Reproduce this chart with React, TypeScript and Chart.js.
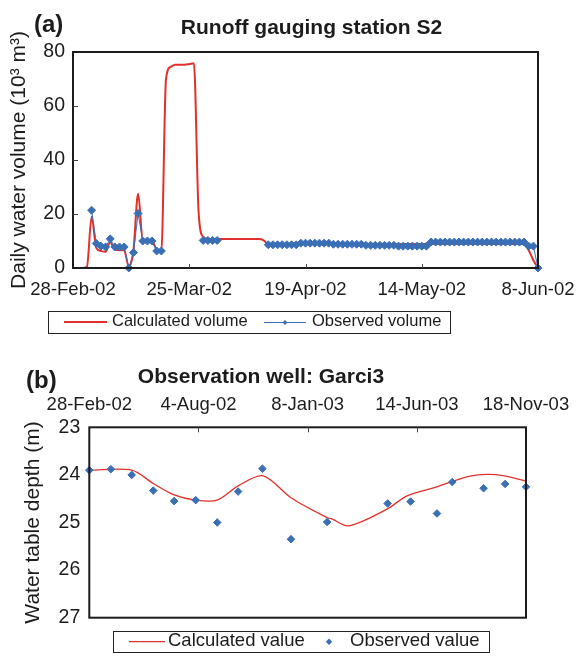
import React, { useEffect, useRef } from 'react';
import { Chart, registerables } from 'chart.js';

Chart.register(...registerables);

const FONT = '"Liberation Sans", Arial, Helvetica, sans-serif';
const INK = '#1c1c1c';
const RED = '#e2302a';
const BLUE = '#3a6fb6';

// ---------- Panel (a): runoff gauging station S2 (day index from 28-Feb-02) ----------
const runoffTickLabels = ['28-Feb-02', '25-Mar-02', '19-Apr-02', '14-May-02', '8-Jun-02'];
const runoffTickStep = 25;
const runoffYTicks = [0, 20, 40, 60, 80];

const calcVolume = [
  0, 0, 0, 0.5, 19, 7.5, 6.3, 6.0, 9.5, 6.8,
  6.6, 6.6, 0.5, 6.5, 27.5, 10.5, 10.3, 10.0, 6.8, 6.3,
  70, 74.5, 75.3, 75.3, 75.3, 75.5, 75.8, 21, 11.5, 10.8,
  10.7, 10.7, 10.7, 10.7, 10.7, 10.7, 10.7, 10.7, 10.7, 10.7,
  10.7, 10.2, 8.9, 8.9, 8.9, 8.9, 8.9, 8.9, 8.9, 8.9,
  8.9, 8.9, 8.9, 8.9, 8.9, 8.9, 8.9, 8.9, 8.9, 8.9,
  8.9, 8.9, 8.9, 8.9, 8.9, 8.9, 8.9, 8.9, 8.9, 8.9,
  8.9, 8.9, 8.9, 8.9, 8.9, 8.9, 8.9, 8.9, 8.9, 8.9,
  8.9, 8.9, 8.9, 8.9, 8.9, 8.9, 8.9, 8.9, 8.9, 8.9,
  8.9, 8.9, 8.9, 8.9, 8.9, 8.9, 8.9, 8.9, 6.6, 2.9,
  0,
];

const obsVolume = [
  null, null, null, null, 21.4, 9.1, 8.1, 7.8, 10.8, 7.8,
  7.8, 7.8, 0, 5.7, 20.2, 10.0, 10.0, 10.0, 6.3, 6.3,
  null, null, null, null, null, null, null, null, 10.2, 10.2,
  10.2, 10.2, null, null, null, null, null, null, null, null,
  null, null, 8.6, 8.6, 8.6, 8.6, 8.6, 8.6, 8.6, 9.2,
  9.2, 9.2, 9.2, 9.2, 9.2, 9.2, 8.8, 8.8, 8.8, 8.8,
  8.8, 8.8, 8.8, 8.4, 8.4, 8.4, 8.4, 8.4, 8.4, 8.4,
  8.1, 8.1, 8.1, 8.1, 8.1, 8.1, 8.1, 9.6, 9.6, 9.6,
  9.6, 9.6, 9.6, 9.6, 9.6, 9.6, 9.6, 9.6, 9.6, 9.6,
  9.6, 9.6, 9.6, 9.6, 9.6, 9.6, 9.6, 9.6, 8.1, 8.1,
  0,
];

// ---------- Panel (b): observation well Garci3 (day index from 28-Feb-02) ----------
const wellTickLabels = ['28-Feb-02', '4-Aug-02', '8-Jan-03', '14-Jun-03', '18-Nov-03'];
const wellTickStep = 157;
const obsWellDays = [0, 31, 61, 92, 122, 153, 184, 214, 249, 290, 342, 429, 462, 500, 522, 567, 598, 628];
const obsWellDepth = [23.9, 23.88, 24.0, 24.33, 24.55, 24.53, 25.0, 24.35, 23.87, 25.35, 24.99, 24.6, 24.56, 24.81, 24.15, 24.28, 24.19, 24.25];
const calcWellDays = [0, 61, 92, 122, 153, 184, 214, 250, 290, 342, 348, 373, 428, 457, 500, 543, 572, 597, 628];
const calcWellDepth = [23.9, 23.9, 24.18, 24.42, 24.53, 24.53, 24.23, 24.02, 24.48, 24.9, 24.92, 25.07, 24.72, 24.44, 24.25, 24.04, 23.99, 24.02, 24.13];

function drawFrame(chart: any) {
  const { ctx, chartArea } = chart;
  const { left, top, right, bottom } = chartArea;
  ctx.save();
  ctx.strokeStyle = INK;
  ctx.lineWidth = 2;
  ctx.strokeRect(left, top, right - left, bottom - top);
  ctx.restore();
}

function drawDiamond(ctx: CanvasRenderingContext2D, x: number, y: number, r: number) {
  ctx.beginPath();
  ctx.moveTo(x - r, y);
  ctx.lineTo(x, y - r);
  ctx.lineTo(x + r, y);
  ctx.lineTo(x, y + r);
  ctx.closePath();
  ctx.fill();
}

const decorA = {
  id: 'decorA',
  afterDraw(chart: any) {
    const { ctx, chartArea, scales } = chart;
    const { left, bottom } = chartArea;
    drawFrame(chart);
    ctx.save();
    ctx.strokeStyle = '#444';
    ctx.lineWidth = 1;
    const xs = scales.x;
    xs.ticks.forEach((t: any) => {
      if (t.value <= xs.min || t.value >= xs.max) return;
      const px = Math.round(xs.getPixelForValue(t.value)) + 0.5;
      ctx.beginPath();
      ctx.moveTo(px, bottom);
      ctx.lineTo(px, bottom - 4);
      ctx.stroke();
    });
    const ys = scales.y;
    ys.ticks.forEach((t: any) => {
      if (t.value <= ys.min || t.value >= ys.max) return;
      const py = Math.round(ys.getPixelForValue(t.value)) + 0.5;
      ctx.beginPath();
      ctx.moveTo(left, py);
      ctx.lineTo(left + 5, py);
      ctx.stroke();
    });

    // panel label + title
    ctx.fillStyle = INK;
    ctx.textBaseline = 'alphabetic';
    ctx.textAlign = 'left';
    ctx.font = `bold 24px ${FONT}`;
    ctx.fillText('(a)', 34, 32);
    ctx.textAlign = 'center';
    ctx.font = `bold 21px ${FONT}`;
    ctx.fillText('Runoff gauging station S2', 311.5, 33.5);

    // legend
    ctx.strokeStyle = '#222';
    ctx.lineWidth = 1;
    ctx.strokeRect(48.5, 311.5, 402, 22);
    const ly = 322;
    ctx.strokeStyle = RED;
    ctx.lineWidth = 2;
    ctx.beginPath();
    ctx.moveTo(64, ly);
    ctx.lineTo(107, ly);
    ctx.stroke();
    ctx.strokeStyle = BLUE;
    ctx.lineWidth = 1;
    ctx.beginPath();
    ctx.moveTo(264, ly + 0.5);
    ctx.lineTo(306, ly + 0.5);
    ctx.stroke();
    ctx.fillStyle = BLUE;
    drawDiamond(ctx, 285, ly + 0.5, 2.5);
    ctx.fillStyle = INK;
    ctx.textAlign = 'left';
    ctx.textBaseline = 'middle';
    ctx.font = `16.5px ${FONT}`;
    ctx.fillText('Calculated volume', 112, 321.5);
    ctx.fillText('Observed volume', 312, 321.5);
    ctx.restore();
  },
};

const decorB = {
  id: 'decorB',
  afterDraw(chart: any) {
    const { ctx, chartArea, scales } = chart;
    const { top } = chartArea;
    drawFrame(chart);
    ctx.save();
    ctx.strokeStyle = '#444';
    ctx.lineWidth = 1;
    const xs = scales.x;
    xs.ticks.forEach((t: any) => {
      if (t.value <= xs.min || t.value >= xs.max) return;
      const px = Math.round(xs.getPixelForValue(t.value)) + 0.5;
      ctx.beginPath();
      ctx.moveTo(px, top);
      ctx.lineTo(px, top + 5);
      ctx.stroke();
    });

    ctx.fillStyle = INK;
    ctx.textBaseline = 'alphabetic';
    ctx.textAlign = 'left';
    ctx.font = `bold 24px ${FONT}`;
    ctx.fillText('(b)', 26, 48);
    ctx.textAlign = 'center';
    ctx.font = `bold 21px ${FONT}`;
    ctx.fillText('Observation well: Garci3', 261, 42.7);

    // legend
    ctx.strokeStyle = '#222';
    ctx.lineWidth = 1;
    ctx.strokeRect(113.5, 291.5, 376, 21);
    const ly = 301.7;
    ctx.strokeStyle = RED;
    ctx.lineWidth = 1.3;
    ctx.beginPath();
    ctx.moveTo(129, ly);
    ctx.lineTo(165, ly);
    ctx.stroke();
    ctx.fillStyle = BLUE;
    drawDiamond(ctx, 329, ly, 3.2);
    ctx.fillStyle = INK;
    ctx.textAlign = 'left';
    ctx.textBaseline = 'middle';
    ctx.font = `18.5px ${FONT}`;
    ctx.fillText('Calculated value', 168, 300.5);
    ctx.fillText('Observed value', 350, 300.5);
    ctx.restore();
  },
};

function makeConfigA(): any {
  return {
    type: 'line',
    data: {
      datasets: [
        {
          label: 'Calculated volume',
          data: calcVolume.map((v, i) => ({ x: i, y: v })),
          borderColor: RED,
          borderWidth: 2,
          pointRadius: 0,
          cubicInterpolationMode: 'monotone',
          order: 1,
        },
        {
          label: 'Observed volume',
          data: obsVolume.map((v, i) => ({ x: i, y: v })),
          borderColor: BLUE,
          borderWidth: 1,
          backgroundColor: BLUE,
          pointStyle: 'rectRot',
          pointRadius: 4,
          pointBorderWidth: 1,
          pointBorderColor: BLUE,
          pointBackgroundColor: BLUE,
          spanGaps: false,
          tension: 0,
          clip: false,
          order: 0,
        },
      ],
    },
    options: {
      animation: false,
      responsive: false,
      devicePixelRatio: 1,
      layout: { padding: { left: 0, right: 41, top: 52, bottom: 0 } },
      plugins: { legend: { display: false }, tooltip: { enabled: false }, title: { display: false } },
      scales: {
        x: {
          type: 'linear',
          min: 0,
          max: 100,
          grid: { display: false, drawTicks: true, tickLength: 8 },
          border: { display: false },
          afterFit: (s: any) => { s.height = 72; },
          afterBuildTicks: (s: any) => {
            s.ticks = runoffTickLabels.map((_, i) => ({ value: i * runoffTickStep }));
          },
          ticks: {
            autoSkip: false,
            maxRotation: 0,
            padding: 3,
            color: INK,
            font: { family: FONT, size: 18.5 },
            callback: (v: any) => runoffTickLabels[Math.round(Number(v) / runoffTickStep)] ?? '',
          },
        },
        y: {
          type: 'linear',
          min: 0,
          max: 80,
          grid: { display: false, drawTicks: false, tickLength: 0 },
          border: { display: false },
          afterFit: (s: any) => { s.width = 73; },
          afterBuildTicks: (s: any) => {
            s.ticks = runoffYTicks.map((v) => ({ value: v }));
          },
          ticks: {
            padding: 8,
            color: INK,
            font: { family: FONT, size: 19.5 },
          },
          title: {
            display: true,
            text: 'Daily water volume (10³ m³)',
            color: INK,
            font: { family: FONT, size: 21 },
            padding: { top: 7, bottom: 0 },
          },
        },
      },
    },
    plugins: [decorA],
  };
}

function makeConfigB(): any {
  return {
    type: 'line',
    data: {
      datasets: [
        {
          label: 'Calculated value',
          data: calcWellDays.map((d, i) => ({ x: d, y: calcWellDepth[i] })),
          borderColor: RED,
          borderWidth: 1.3,
          pointRadius: 0,
          tension: 0.3,
          order: 1,
        },
        {
          label: 'Observed value',
          data: obsWellDays.map((d, i) => ({ x: d, y: obsWellDepth[i] })),
          showLine: false,
          pointStyle: 'rectRot',
          pointRadius: 3.8,
          pointBorderWidth: 1,
          pointBorderColor: BLUE,
          pointBackgroundColor: BLUE,
          clip: false,
          order: 0,
        },
      ],
    },
    options: {
      animation: false,
      responsive: false,
      devicePixelRatio: 1,
      layout: { padding: { left: 0, right: 53, top: 0, bottom: 38.3 } },
      plugins: { legend: { display: false }, tooltip: { enabled: false }, title: { display: false } },
      scales: {
        x: {
          type: 'linear',
          position: 'top',
          min: 0,
          max: 628,
          grid: { display: false, drawTicks: true, tickLength: 8 },
          border: { display: false },
          afterFit: (s: any) => { s.height = 87.3; },
          afterBuildTicks: (s: any) => {
            s.ticks = wellTickLabels.map((_, i) => ({ value: i * wellTickStep }));
          },
          ticks: {
            autoSkip: false,
            maxRotation: 0,
            padding: 3,
            color: INK,
            font: { family: FONT, size: 18.5 },
            callback: (v: any) => wellTickLabels[Math.round(Number(v) / wellTickStep)] ?? '',
          },
        },
        y: {
          type: 'linear',
          reverse: true,
          min: 23,
          max: 27,
          grid: { display: false, drawTicks: false, tickLength: 0 },
          border: { display: false },
          afterFit: (s: any) => { s.width = 89.3; },
          ticks: {
            stepSize: 1,
            padding: 9,
            color: INK,
            font: { family: FONT, size: 19.5 },
          },
          title: {
            display: true,
            text: 'Water table depth (m)',
            color: INK,
            font: { family: FONT, size: 21 },
            padding: { top: 21, bottom: 0 },
          },
        },
      },
    },
    plugins: [decorB],
  };
}

export default function App() {
  const refA = useRef<HTMLCanvasElement>(null);
  const refB = useRef<HTMLCanvasElement>(null);

  useEffect(() => {
    const a = new Chart(refA.current as HTMLCanvasElement, makeConfigA());
    const b = new Chart(refB.current as HTMLCanvasElement, makeConfigB());
    return () => {
      a.destroy();
      b.destroy();
    };
  }, []);

  return (
    <div style={{ position: 'absolute', left: 0, top: 0, width: 579, height: 656, background: '#fff' }}>
      <canvas
        ref={refA}
        width={579}
        height={340}
        style={{ position: 'absolute', left: 0, top: 0, width: 579, height: 340, display: 'block' }}
      />
      <canvas
        ref={refB}
        width={579}
        height={316}
        style={{ position: 'absolute', left: 0, top: 340, width: 579, height: 316, display: 'block' }}
      />
    </div>
  );
}
